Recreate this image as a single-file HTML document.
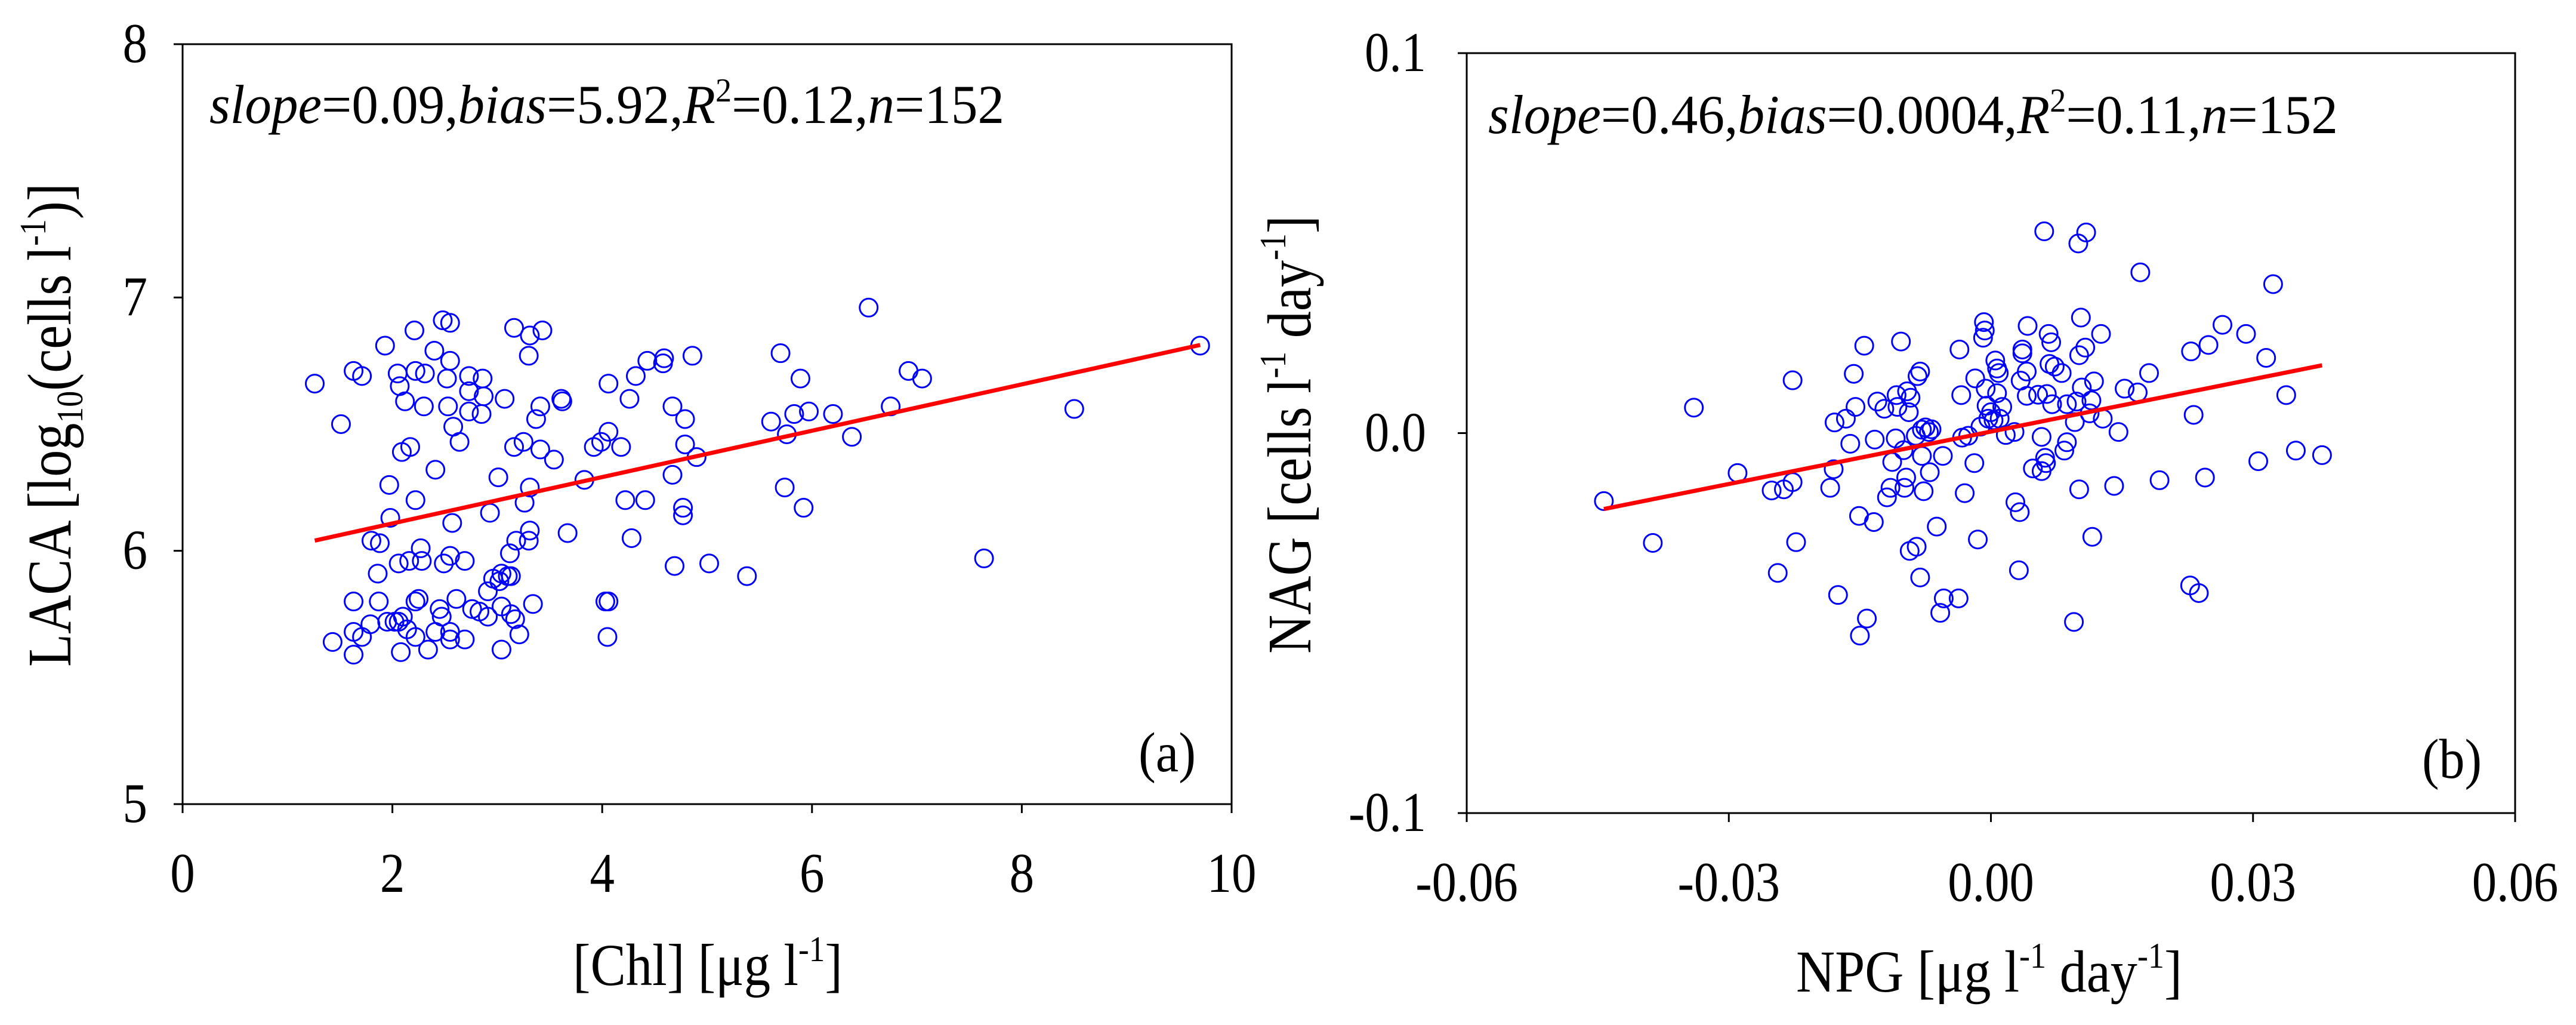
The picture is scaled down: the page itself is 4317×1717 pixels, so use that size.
<!DOCTYPE html>
<html><head><meta charset="utf-8"><style>
html,body{margin:0;padding:0;background:#fff}
svg{display:block}
text{font-family:"Liberation Serif",serif;fill:#000}
</style></head><body>
<svg id="chart" width="4317" height="1717" viewBox="0 0 4317 1717" xmlns="http://www.w3.org/2000/svg">
<g id="pa"></g>
<g id="pb"></g>
</svg>
<script>
// Panel (a) data
const aX = [1.26,1.51,1.43,1.63,1.71,1.63,1.63,1.63,1.71,1.79,1.80,1.88,1.86,1.87,1.93,1.97,1.98,1.95,2.02,2.06,2.10,2.05,2.07,2.12,2.09,2.17,2.06,2.16,2.14,2.08,2.21,2.22,2.22,2.22,2.25,2.22,2.27,2.28,2.31,2.30,2.34,2.40,2.41,2.41,2.45,2.47,2.48,2.55,2.55,2.52,2.53,2.58,2.57,2.55,2.49,2.55,2.55,2.61,2.64,2.69,2.69,2.73,2.73,2.73,2.76,2.86,2.87,2.85,2.83,2.91,2.91,2.93,2.96,3.01,3.02,3.04,3.04,3.04,3.07,3.12,3.10,3.13,3.13,3.16,3.16,3.17,3.18,3.21,3.25,3.26,3.31,3.30,3.31,3.34,3.31,3.43,3.30,3.37,3.41,3.41,3.54,3.61,3.62,3.67,3.83,3.92,3.99,4.06,4.06,4.03,4.06,4.05,4.18,4.22,4.26,4.28,4.32,4.41,4.43,4.59,4.58,4.67,4.67,4.69,4.79,4.79,4.77,4.77,4.86,4.90,5.02,5.38,5.61,5.70,5.74,5.76,5.83,5.89,5.92,5.97,6.20,6.38,6.54,6.75,6.92,7.05,7.64,8.50,9.70];
const aY = [6.66,6.50,5.64,6.71,6.69,5.80,5.68,5.59,5.66,5.71,6.04,6.03,5.91,5.80,6.81,6.26,6.13,5.72,5.72,5.72,5.74,6.70,6.65,6.59,6.39,6.41,5.95,5.96,5.69,5.60,6.87,6.71,6.20,5.80,5.81,5.66,6.01,5.96,6.70,6.57,5.61,6.79,6.32,5.68,5.77,5.74,6.91,6.90,6.75,6.68,6.57,6.49,6.11,5.98,5.95,5.68,5.65,5.81,6.43,5.96,5.65,6.69,6.63,6.55,5.77,6.68,6.61,6.54,5.76,5.84,5.74,6.15,5.89,6.29,5.88,5.91,5.78,5.61,6.60,5.99,5.90,5.90,5.75,6.88,6.41,5.73,6.04,5.67,6.43,6.19,6.25,6.04,6.08,5.79,6.85,6.87,6.77,6.52,6.57,6.40,6.36,6.60,6.59,6.07,6.28,6.41,6.43,6.66,6.47,5.80,5.80,5.66,6.41,6.20,6.60,6.05,6.69,6.20,6.75,6.76,6.74,6.57,6.30,5.94,6.52,6.42,6.17,6.14,6.77,6.37,5.95,5.90,6.51,6.78,6.25,6.46,6.54,6.68,6.17,6.55,6.54,6.45,6.96,6.57,6.71,6.68,5.97,6.56,6.81];
const aFit = [0.0915, 5.925];
const aXTicks = ["0","2","4","6","8","10"];
const aYTicks = ["5","6","7","8"];

// Panel (b) data (values in 1e-3 units)
const bX = [-44.3,-38.7,-34.0,-29.0,-25.1,-23.7,-22.7,-24.4,-22.7,-22.3,-18.4,-18.0,-17.9,-17.5,-16.6,-16.1,-15.7,-15.5,-15.1,-15.0,-14.5,-14.2,-13.4,-13.3,-13.0,-12.2,-11.9,-11.5,-11.3,-10.9,-10.8,-10.7,-10.3,-10.0,-9.9,-9.7,-9.6,-9.4,-9.3,-9.2,-8.6,-8.5,-8.4,-8.1,-8.1,-7.9,-7.9,-7.7,-7.5,-7.1,-7.0,-6.8,-6.2,-5.8,-5.5,-5.4,-3.7,-3.6,-3.4,-3.3,-3.0,-2.6,-1.9,-1.8,-1.5,-1.2,-0.9,-0.8,-0.7,-0.6,-0.5,-0.3,0.0,0.3,0.5,0.7,0.7,0.9,1.0,1.3,1.7,2.7,2.8,3.2,3.3,3.4,3.6,3.6,4.1,4.1,4.2,4.8,5.4,5.8,5.8,6.1,6.2,6.3,6.4,6.6,6.7,6.9,7.0,7.3,8.1,8.4,8.7,8.7,9.5,9.6,9.8,10.0,10.1,10.1,10.3,10.4,10.8,10.9,11.3,11.5,11.6,11.8,12.6,12.8,14.1,14.6,15.3,16.8,17.1,18.1,19.3,22.8,22.9,23.2,23.8,24.5,24.9,26.5,29.2,30.6,31.5,32.3,33.8,34.9,37.9];
const bY = [-17.9,-28.9,6.7,-10.5,-15.1,-14.8,-12.9,-36.8,13.9,-28.7,-14.4,-9.5,2.8,-42.6,3.8,-2.8,15.6,6.9,-21.8,-53.3,23.0,-48.8,-23.4,-1.7,8.3,6.4,-16.9,-14.4,-7.6,-1.4,10.0,6.9,24.1,-4.5,-14.4,-11.7,11.0,5.5,-31.0,9.3,-0.7,-29.9,15.0,16.2,-38.0,0.9,-6.0,-15.3,1.5,0.3,-10.3,1.0,-24.6,-47.3,-6.0,-43.5,-43.5,22.0,10.0,-1.2,-15.8,-0.7,-7.9,14.4,-28.0,1.7,25.1,29.2,27.0,11.7,7.2,3.8,5.5,3.4,19.1,17.0,10.5,15.8,3.8,6.9,-0.5,0.3,-18.2,-36.1,-20.8,13.8,22.0,21.0,16.2,9.8,28.2,-9.3,10.1,-1.0,-10.0,53.1,-6.5,-7.9,10.3,26.1,18.2,23.9,7.6,17.5,15.8,-4.6,-2.4,7.6,-49.7,2.9,8.3,49.9,-14.8,20.5,30.4,12.0,22.5,52.8,5.2,8.6,-27.3,13.6,26.1,3.8,-13.9,0.3,11.7,10.7,42.3,15.8,-12.4,-40.1,21.5,4.8,-42.1,-11.7,23.2,28.5,26.1,-7.4,19.8,39.2,10.0,-4.6,-5.8];
const bFit = [0.46, 0.4];
const bXTicks = ["-0.06","-0.03","0.00","0.03","0.06"];
const bYTicks = ["-0.1","0.0","0.1"];

const NS = "http://www.w3.org/2000/svg";
function mk(parent, tag, attrs, txt){
  const e = document.createElementNS(NS, tag);
  for (const k in attrs) e.setAttribute(k, attrs[k]);
  if (txt !== undefined) e.textContent = txt;
  parent.appendChild(e);
  return e;
}
function labelWidth(t){
  let w = 0;
  for (const ch of t) w += (ch === '.') ? 20 : (ch === '-') ? 27 : 41.5;
  return w;
}
function tickText(g, x, y, anchor, t){
  const lb = mk(g, 'text', {x:x, y:y, 'font-size':94, 'text-anchor':anchor, 'font-family':'Liberation Serif, serif', textLength:labelWidth(t), lengthAdjust:'spacingAndGlyphs'}, t);
  return lb;
}

function panel(g, cfg){
  const {x0,x1,y0,y1,xmin,xmax,ymin,ymax} = cfg;
  const sx = v => x0 + (v - xmin) / (xmax - xmin) * (x1 - x0);
  const sy = v => y1 - (v - ymin) / (ymax - ymin) * (y1 - y0);
  const frame = mk(g, 'rect', {x:x0, y:y0, width:x1-x0, height:y1-y0, fill:'none', stroke:'#000', 'stroke-width':3});
  
  
  cfg.xTicks.forEach((t, i) => {
    const v = xmin + i * (xmax - xmin) / (cfg.xTicks.length - 1);
    const tk = mk(g, 'line', {x1:sx(v), x2:sx(v), y1:y1, y2:y1+15, stroke:'#000', 'stroke-width':3});
    
    
    const lb = tickText(g, sx(v), cfg.xLabelY, 'middle', t);
    
    
  });
  cfg.yTicks.forEach((t, i) => {
    const v = ymin + i * (ymax - ymin) / (cfg.yTicks.length - 1);
    const tk = mk(g, 'line', {x1:x0-15, x2:x0, y1:sy(v), y2:sy(v), stroke:'#000', 'stroke-width':3});
    
    
    const lb = tickText(g, cfg.yLabelX, sy(v)+30, 'end', t);
    
    
  });
  cfg.xs.forEach((xv, i) => {
    const c = mk(g, 'circle', {cx:sx(xv*cfg.k), cy:sy(cfg.ys[i]*cfg.k), r:15, fill:'none', stroke:'#0000ff', 'stroke-width':3});
    
    
  });
  const lo = Math.min(...cfg.xs), hi = Math.max(...cfg.xs);
  const f = v => cfg.fit[0]*v + cfg.fit[1];
  const ln = mk(g, 'line', {x1:sx(lo*cfg.k), y1:sy(f(lo)*cfg.k), x2:sx(hi*cfg.k), y2:sy(f(hi)*cfg.k), stroke:'#ff0000', 'stroke-width':7});
  
  
}

panel(document.getElementById('pa'), {x0:306,x1:2064,y0:74,y1:1347,xmin:0,xmax:10,ymin:5,ymax:8,xs:aX,ys:aY,k:1,fit:aFit,xTicks:aXTicks,yTicks:aYTicks,xLabelY:1494,yLabelX:247});
panel(document.getElementById('pb'), {x0:2458,x1:4215,y0:89,y1:1362,xmin:-0.06,xmax:0.06,ymin:-0.1,ymax:0.1,xs:bX,ys:bY,k:0.001,fit:bFit,xTicks:bXTicks,yTicks:bYTicks,xLabelY:1509,yLabelX:2390});
</script>
<svg style="position:absolute;left:0;top:0" width="4317" height="1717" xmlns="http://www.w3.org/2000/svg">
<text x="351" y="206" font-size="92" textLength="1332" lengthAdjust="spacingAndGlyphs"><tspan font-style="italic">slope</tspan>=0.09,<tspan font-style="italic">bias</tspan>=5.92,<tspan font-style="italic">R</tspan><tspan dy="-36" font-size="56">2</tspan><tspan dy="36">=0.12,</tspan><tspan font-style="italic">n</tspan>=152</text>
<text x="2494" y="223" font-size="92" textLength="1424" lengthAdjust="spacingAndGlyphs"><tspan font-style="italic">slope</tspan>=0.46,<tspan font-style="italic">bias</tspan>=0.0004,<tspan font-style="italic">R</tspan><tspan dy="-36" font-size="56">2</tspan><tspan dy="36">=0.11,</tspan><tspan font-style="italic">n</tspan>=152</text>
<text x="1956" y="1292" font-size="94" text-anchor="middle" textLength="96" lengthAdjust="spacingAndGlyphs">(a)</text>
<text x="4109" y="1303" font-size="94" text-anchor="middle" textLength="100" lengthAdjust="spacingAndGlyphs">(b)</text>
<text x="960" y="1650" font-size="100" textLength="452" lengthAdjust="spacingAndGlyphs">[Chl] [μg l<tspan dy="-40" font-size="60">-1</tspan><tspan dy="40">]</tspan></text>
<text x="3010" y="1661" font-size="100" textLength="647" lengthAdjust="spacingAndGlyphs">NPG [μg l<tspan dy="-40" font-size="60">-1</tspan><tspan dy="40"> day</tspan><tspan dy="-40" font-size="60">-1</tspan><tspan dy="40">]</tspan></text>
<text transform="translate(118,1117) rotate(-90)" font-size="104" textLength="810" lengthAdjust="spacingAndGlyphs">LACA [log<tspan dy="20" font-size="62">10</tspan><tspan dy="-20">(cells l</tspan><tspan dy="-42" font-size="62">-1</tspan><tspan dy="42">)]</tspan></text>
<text transform="translate(2196,1095) rotate(-90)" font-size="104" textLength="734" lengthAdjust="spacingAndGlyphs">NAG [cells l<tspan dy="-42" font-size="62">-1</tspan><tspan dy="42"> day</tspan><tspan dy="-42" font-size="62">-1</tspan><tspan dy="42">]</tspan></text>
</svg>
</body></html>
